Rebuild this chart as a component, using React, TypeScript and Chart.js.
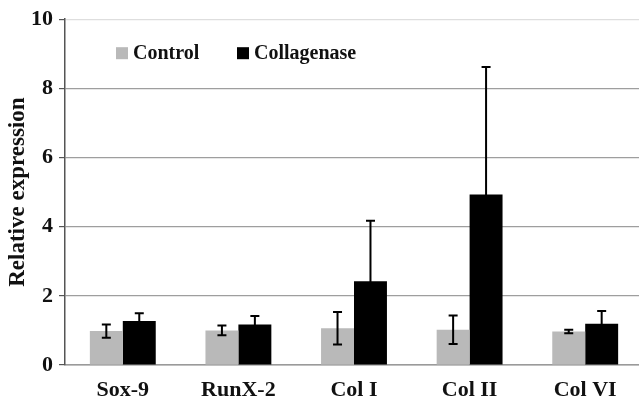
import React, { useEffect, useRef } from 'react';
import { Chart, registerables } from 'chart.js';

Chart.register(...registerables);

const categories = ['Sox-9', 'RunX-2', 'Col I', 'Col II', 'Col VI'];
const controlValues = [0.98, 1.0, 1.06, 1.02, 0.97];
const controlErrors = [0.19, 0.14, 0.47, 0.41, 0.05];
const collagenaseValues = [1.27, 1.17, 2.42, 4.93, 1.19];
const collagenaseErrors = [0.23, 0.25, 1.75, 3.69, 0.37];
const seriesNames = ['Control', 'Collagenase'];
const yTickValues = [0, 2, 4, 6, 8, 10];

const FONT = "'Liberation Serif', 'Times New Roman', serif";

const errorBarPlugin = {
  id: 'errorBars',
  afterDatasetsDraw(chart: any) {
    const ctx = chart.ctx;
    const yScale = chart.scales.y;
    chart.data.datasets.forEach((ds: any, i: number) => {
      const meta = chart.getDatasetMeta(i);
      const errs: number[] = ds.errors || [];
      meta.data.forEach((bar: any, j: number) => {
        const v = ds.data[j];
        const e = errs[j];
        if (e == null) return;
        const x = bar.x;
        const yTop = yScale.getPixelForValue(v + e);
        const yBot = yScale.getPixelForValue(v - e);
        ctx.save();
        ctx.strokeStyle = '#000';
        ctx.lineWidth = 2;
        ctx.beginPath();
        ctx.moveTo(x, yTop);
        ctx.lineTo(x, yBot);
        ctx.moveTo(x - 4.5, yTop);
        ctx.lineTo(x + 4.5, yTop);
        ctx.moveTo(x - 4.5, yBot);
        ctx.lineTo(x + 4.5, yBot);
        ctx.stroke();
        ctx.restore();
      });
    });
  },
};

const insideLegendPlugin = {
  id: 'insideLegend',
  afterDraw(chart: any) {
    const ctx = chart.ctx;
    const area = chart.chartArea;
    const offsets = [51, 172];
    ctx.save();
    ctx.font = `bold 20px ${FONT}`;
    ctx.textBaseline = 'middle';
    ctx.textAlign = 'left';
    chart.data.datasets.forEach((ds: any, i: number) => {
      const x = area.left + offsets[i];
      const y = area.top + 34;
      ctx.fillStyle = ds.backgroundColor;
      ctx.fillRect(x, y - 6, 12, 12);
      ctx.fillStyle = '#111';
      ctx.fillText(ds.label, x + 17, y + 1);
    });
    ctx.restore();
  },
};

export default function App() {
  const canvasRef = useRef<HTMLCanvasElement | null>(null);

  useEffect(() => {
    if (!canvasRef.current) return;
    const chart = new Chart(canvasRef.current, {
      type: 'bar',
      data: {
        labels: categories,
        datasets: [
          {
            label: seriesNames[0],
            data: controlValues,
            errors: controlErrors,
            backgroundColor: '#b9b9b9',
            borderWidth: 0,
            barPercentage: 1,
            categoryPercentage: 0.57,
          } as any,
          {
            label: seriesNames[1],
            data: collagenaseValues,
            errors: collagenaseErrors,
            backgroundColor: '#000000',
            borderWidth: 0,
            barPercentage: 1,
            categoryPercentage: 0.57,
          } as any,
        ],
      },
      options: {
        animation: false,
        responsive: true,
        maintainAspectRatio: false,
        layout: { padding: { top: 19, right: 1, left: 0, bottom: 0 } },
        plugins: {
          legend: { display: false },
          tooltip: { enabled: false },
        },
        scales: {
          x: {
            grid: { display: false, drawTicks: false },
            border: { display: true, color: '#9a9a9a', width: 1.5 },
            ticks: {
              color: '#111',
              padding: 12,
              font: { family: FONT, size: 22, weight: 'bold' },
            },
            afterFit: (s: any) => {
              s.height = 36;
            },
          },
          y: {
            min: 0,
            max: 10,
            afterBuildTicks: (s: any) => {
              s.ticks = yTickValues.map((v) => ({ value: v }));
            },
            ticks: {
              color: '#111',
              padding: 6,
              font: { family: FONT, size: 22, weight: 'bold' },
            },
            grid: {
              color: (c: any) => (c.tick && c.tick.value === 10 ? '#dedede' : '#9e9e9e'),
              tickColor: '#555',
              tickLength: 6,
              lineWidth: 1.2,
            },
            border: { color: '#555', width: 1.5 },
            title: {
              display: true,
              text: 'Relative expression',
              color: '#111',
              font: { family: FONT, size: 23, weight: 'bold' },
              padding: { top: 4, bottom: 0 },
            },
            afterFit: (s: any) => {
              s.width = 65;
            },
          },
        },
      },
      plugins: [errorBarPlugin, insideLegendPlugin],
    });
    return () => chart.destroy();
  }, []);

  return (
    <div
      style={{
        position: 'fixed',
        left: 0,
        top: 0,
        width: 639,
        height: 401,
        overflow: 'hidden',
        background: '#fff',
      }}
    >
      <div style={{ position: 'relative', width: 644, height: 401 }}>
        <canvas ref={canvasRef} />
      </div>
    </div>
  );
}
